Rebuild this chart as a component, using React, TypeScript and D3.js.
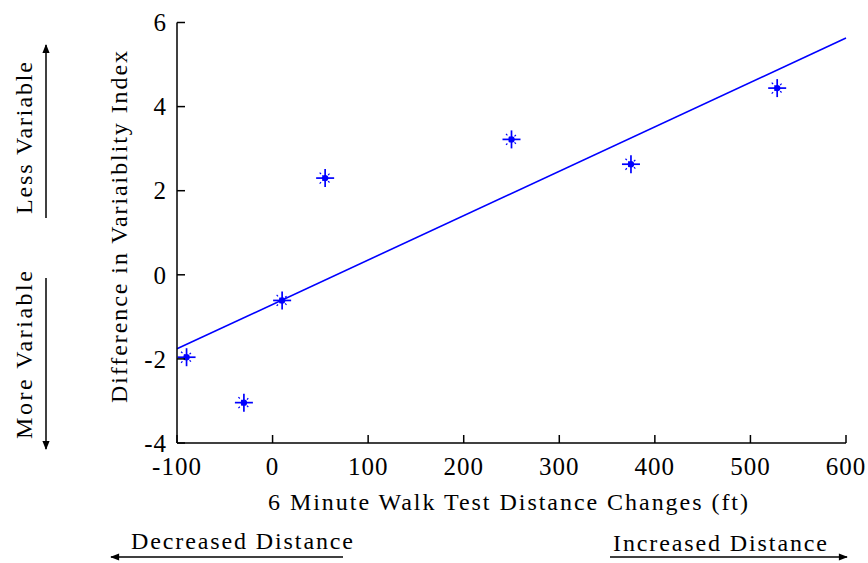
import React from "react";
import * as d3 from "d3";

const walkChange = [-90, -30, 10, 55, 250, 375, 528];
const variabilityDiff = [-1.96, -3.04, -0.61, 2.3, 3.22, 2.63, 4.44];
const fitX = [-100, 600];
const fitY = [-1.76, 5.63];
const xTicks = [-100, 0, 100, 200, 300, 400, 500, 600];
const yTicks = [-4, -2, 0, 2, 4, 6];

const W = 868;
const H = 563;
const FONT = "'Liberation Serif', 'Times New Roman', serif";
const BLUE = "#0000ff";

export default function App() {
  const x = d3.scaleLinear().domain([-100, 600]).range([177, 846]);
  const y = d3.scaleLinear().domain([-4, 6]).range([443, 22.5]);
  const line = d3
    .line<number>()
    .x((_, i) => x(fitX[i]))
    .y((_, i) => y(fitY[i]));
  const fs = 24;
  return (
    <svg
      width={W}
      height={H}
      style={{ position: "absolute", left: 0, top: 0, background: "#fff" }}
      fontFamily={FONT}
    >
      <defs>
        <marker id="ah" viewBox="0 0 10 10" refX="9" refY="5" markerWidth="10" markerHeight="9" orient="auto-start-reverse" markerUnits="userSpaceOnUse">
          <path d="M0,1 L10,5 L0,9 Z" fill="#000" />
        </marker>
      </defs>
      <rect width={W} height={H} fill="#fff" />
      {/* fit line */}
      <path d={line(fitX) || ""} stroke={BLUE} strokeWidth={1.6} fill="none" />
      {/* points */}
      {walkChange.map((v, i) => {
        const cx = x(v);
        const cy = y(variabilityDiff[i]);
        const a = 9;
        const b = 5.5;
        return (
          <g key={i} stroke={BLUE} strokeWidth={1.7}>
            <line x1={cx - a} x2={cx + a} y1={cy} y2={cy} />
            <line x1={cx} x2={cx} y1={cy - a} y2={cy + a} />
            <line x1={cx - b} x2={cx + b} y1={cy - b} y2={cy + b} strokeWidth={1.2} strokeDasharray="2,2" />
            <line x1={cx - b} x2={cx + b} y1={cy + b} y2={cy - b} strokeWidth={1.2} strokeDasharray="2,2" />
            <circle cx={cx} cy={cy} r={3.2} fill={BLUE} stroke="none" />
          </g>
        );
      })}
      {/* axes */}
      <g stroke="#000" strokeWidth={1.5}>
        <line x1={x(-100)} x2={x(600)} y1={y(-4)} y2={y(-4)} />
        <line x1={x(-100)} x2={x(-100)} y1={y(-4)} y2={y(6)} />
        {xTicks.map((t) => (
          <line key={"xt" + t} x1={x(t)} x2={x(t)} y1={y(-4)} y2={y(-4) - 8} />
        ))}
        {yTicks.map((t) => (
          <line key={"yt" + t} x1={x(-100)} x2={x(-100) + 8} y1={y(t)} y2={y(t)} />
        ))}
      </g>
      <g fontSize={fs} fill="#000">
        {xTicks.map((t) => (
          <text key={"xl" + t} x={x(t)} y={475} textAnchor="middle" fontSize={25} letterSpacing={1}>
            {t}
          </text>
        ))}
        {yTicks.map((t) => (
          <text key={"yl" + t} x={167} y={y(t)} dy="0.35em" textAnchor="end" fontSize={25} letterSpacing={1}>
            {t}
          </text>
        ))}
        <text x={508} y={510} textAnchor="middle" textLength={480} lengthAdjust="spacing">
          6 Minute Walk Test Distance Changes (ft)
        </text>
        <text transform="translate(127,227) rotate(-90)" textAnchor="middle" textLength={352} lengthAdjust="spacing">
          Difference in Variaiblity Index
        </text>
        <text transform="translate(32,138) rotate(-90)" textAnchor="middle" textLength={152} lengthAdjust="spacing">
          Less Variable
        </text>
        <text transform="translate(32,355) rotate(-90)" textAnchor="middle" textLength={168} lengthAdjust="spacing">
          More Variable
        </text>
        <text x={242} y={549} textAnchor="middle" textLength={222} lengthAdjust="spacing">
          Decreased Distance
        </text>
        <text x={720} y={551} textAnchor="middle" textLength={214} lengthAdjust="spacing">
          Increased Distance
        </text>
      </g>
      {/* annotation arrows */}
      <g stroke="#000" strokeWidth={1.5}>
        <line x1={46} x2={46} y1={218} y2={45} markerEnd="url(#ah)" />
        <line x1={46} x2={46} y1={278} y2={449} markerEnd="url(#ah)" />
        <line x1={343} x2={111} y1={557} y2={557} markerEnd="url(#ah)" />
        <line x1={610} x2={847} y1={557} y2={557} markerEnd="url(#ah)" />
      </g>
    </svg>
  );
}
